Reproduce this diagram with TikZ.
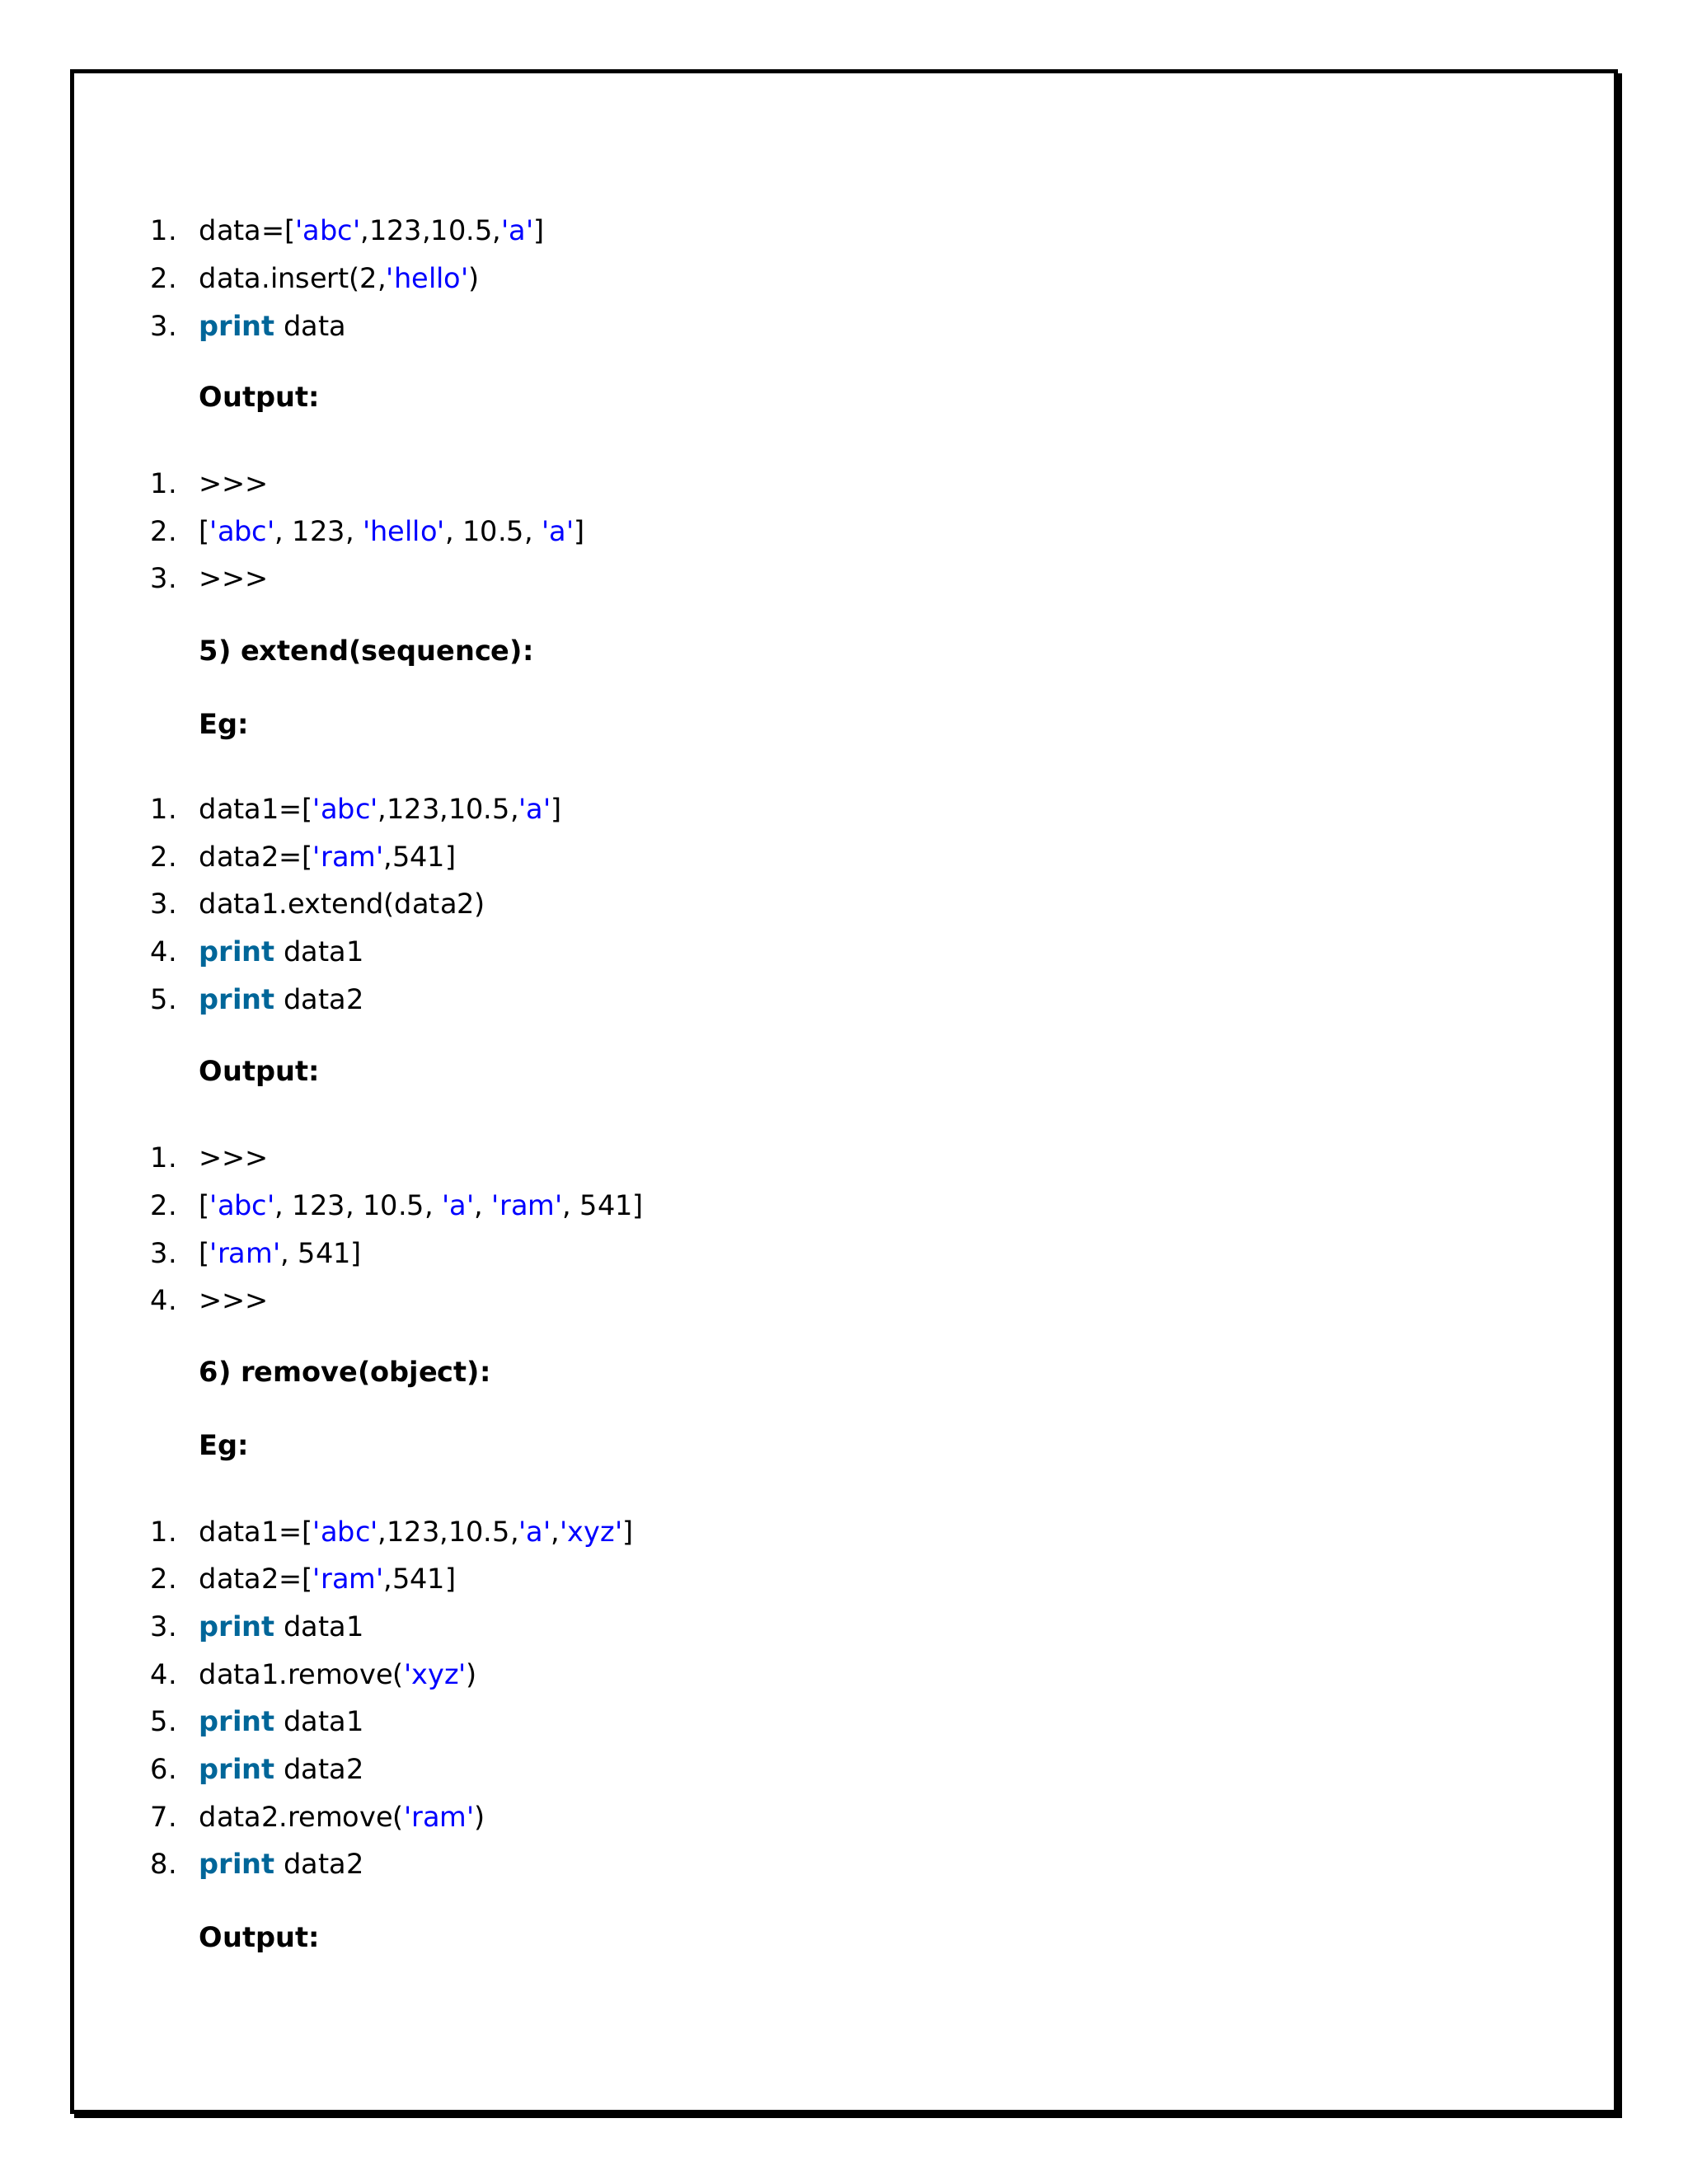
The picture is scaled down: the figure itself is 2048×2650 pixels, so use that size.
\documentclass[tikz,border=0pt]{standalone}
\usepackage{fontspec}
\newfontfamily\pyfont{DejaVu Sans}
\usetikzlibrary{positioning}

\definecolor{strblue}{RGB}{0,0,255}
\definecolor{kwblue}{RGB}{0,102,153}
\newcommand{\pystr}[1]{{\color{strblue}#1}}
\newcommand{\pykw}[1]{{\color{kwblue}\bfseries #1}}
\newcommand{\lno}[1]{\makebox[0.59cm][l]{#1}}

\begin{document}
\begin{tikzpicture}[x=0.01cm,y=-0.01cm,
                    every node/.style={inner sep=0pt,anchor=base west,
                      font=\pyfont\fontsize{9.55pt}{11pt}\selectfont},
                    heading/.style={font=\pyfont\fontsize{9.55pt}{11pt}\selectfont\bfseries}]
  \useasboundingbox (0,0) rectangle (2048,2650);

  % page frame with its shadow
  \fill[black] (90,89) rectangle (1968,2570);
  \draw[line width=0.05cm,fill=white] (87.5,86.8) rectangle (1960.5,2562.5);

  % insert
  \node (a1) at (182,291.7) {\lno{1.}data=[\pystr{'abc'},123,10.5,\pystr{'a'}]};
  \node (a2) at (182,349.4) {\lno{2.}data.insert(2,\pystr{'hello'})};
  \node (a3) at (182,407.1) {\lno{3.}\pykw{print} data};
  \node[heading] (out1) at (241,493.7) {Output:};
  \node (b1) at (182,598.3) {\lno{1.}>>>};
  \node (b2) at (182,656.0) {\lno{2.}[\pystr{'abc'}, 123, \pystr{'hello'}, 10.5, \pystr{'a'}]};
  \node (b3) at (182,713.7) {\lno{3.}>>>};

  % extend
  \node[heading] (h5) at (241,801.7) {5) extend(sequence):};
  \node[heading] (eg5) at (241,890) {Eg:};
  \node (c1) at (182,993.3) {\lno{1.}data1=[\pystr{'abc'},123,10.5,\pystr{'a'}]};
  \node (c2) at (182,1051.0) {\lno{2.}data2=[\pystr{'ram'},541]};
  \node (c3) at (182,1108.7) {\lno{3.}data1.extend(data2)};
  \node (c4) at (182,1166.4) {\lno{4.}\pykw{print} data1};
  \node (c5) at (182,1224.1) {\lno{5.}\pykw{print} data2};
  \node[heading] (out2) at (241,1311.7) {Output:};
  \node (d1) at (182,1416.7) {\lno{1.}>>>};
  \node (d2) at (182,1474.4) {\lno{2.}[\pystr{'abc'}, 123, 10.5, \pystr{'a'}, \pystr{'ram'}, 541]};
  \node (d3) at (182,1532.1) {\lno{3.}[\pystr{'ram'}, 541]};
  \node (d4) at (182,1589.8) {\lno{4.}>>>};

  % remove
  \node[heading] (h6) at (241,1676.7) {6) remove(object):};
  \node[heading] (eg6) at (241,1765) {Eg:};
  \node (e1) at (182,1870.0) {\lno{1.}data1=[\pystr{'abc'},123,10.5,\pystr{'a'},\pystr{'xyz'}]};
  \node (e2) at (182,1927.7) {\lno{2.}data2=[\pystr{'ram'},541]};
  \node (e3) at (182,1985.4) {\lno{3.}\pykw{print} data1};
  \node (e4) at (182,2043.1) {\lno{4.}data1.remove(\pystr{'xyz'})};
  \node (e5) at (182,2100.8) {\lno{5.}\pykw{print} data1};
  \node (e6) at (182,2158.5) {\lno{6.}\pykw{print} data2};
  \node (e7) at (182,2216.2) {\lno{7.}data2.remove(\pystr{'ram'})};
  \node (e8) at (182,2273.9) {\lno{8.}\pykw{print} data2};
  \node[heading] (out3) at (241,2362) {Output:};
\end{tikzpicture}
\end{document}
